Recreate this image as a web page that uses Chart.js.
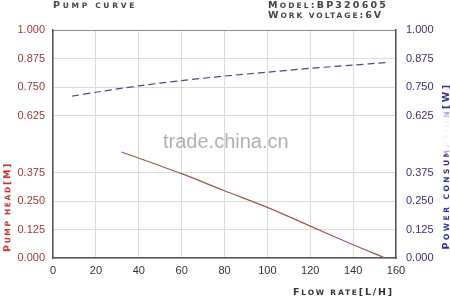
<!DOCTYPE html>
<html>
<head>
<meta charset="utf-8">
<script src="https://cdn.jsdelivr.net/npm/chart.js@4.4.0/dist/chart.umd.min.js"></script>
<style>
  html, body { margin: 0; padding: 0; background: #fff; }
  #wrap { position: relative; width: 450px; height: 296px; overflow: hidden; }
  canvas { position: absolute; left: 0; top: 0; }
  .lbl {
    position: absolute;
    font-family: "DejaVu Sans", sans-serif;
    font-weight: bold;
    font-size: 7.5px;
    white-space: nowrap;
    line-height: 1;
  }
  .lbl b { font-size: 9.5px; }
  .rot { transform: translate(-50%, -50%) rotate(-90deg); }
  .mark {
    position: absolute;
    font-family: "Liberation Sans", Arial, sans-serif;
    font-size: 20px;
    color: rgba(150,150,150,0.75);
    white-space: nowrap;
  }
  .fade {
    position: absolute;
    left: 434px; top: 112px; width: 20px; height: 42px;
    background: radial-gradient(ellipse at center, rgba(255,255,255,0.95) 45%, rgba(255,255,255,0) 100%);
  }
</style>
</head>
<body>
<div id="wrap">
  <canvas id="chart" width="450" height="296"></canvas>
  <div class="lbl" data-w="84" style="left:53px; top:0px; color:#444;"><b>P</b>UMP CURVE</div>
  <div class="lbl" data-w="120" style="left:268px; top:0px; color:#444;"><b>M</b>ODEL<b>:BP320605</b></div>
  <div class="lbl" data-w="115" style="left:268px; top:10px; color:#444;"><b>W</b>ORK VOLTAGE<b>:6V</b></div>
  <div class="lbl" data-w="101" style="left:293px; top:287px; color:#333;"><b>F</b>LOW RATE<b>[L/H]</b></div>
  <div class="lbl rot" data-w="90" style="left:7px; top:207px; color:#c0322c;"><b>P</b>UMP HEAD<b>[M]</b></div>
  <div class="lbl rot" data-w="167" style="left:446px; top:166px; color:#2e3190;"><b>P</b>OWER CONSUMPTION<b>[W]</b></div>
  <div class="fade"></div>
  <div class="mark" style="left:163px; top:130px;">trade.china.cn</div>
</div>
<script>
// flow rate (L/H) vs pump head (m)
const headFlow = [32, 60, 80, 100, 120, 140, 155];
const headValues = [0.465, 0.37, 0.295, 0.222, 0.14, 0.058, 0];

// flow rate (L/H) vs power consumption (W)
const powerFlow = [9, 20, 40, 60, 80, 100, 120, 140, 155];
const powerValues = [0.71, 0.727, 0.755, 0.778, 0.798, 0.815, 0.832, 0.846, 0.857];

const yTickLabels = ['0.000', '0.125', '0.250', '0.375', '', '0.625', '0.750', '0.875', '1.000'];

const toPoints = (xs, ys) => xs.map((x, i) => ({ x: x, y: ys[i] }));

const gridColor = (ctx) => {
  if (ctx.tick && ctx.tick.value === 1) return '#888';
  if (ctx.tick && ctx.tick.value === 0.5) return 'rgba(0,0,0,0)';
  return '#dcdcdc';
};

// stretch the small-caps labels to the widths seen in the picture
document.querySelectorAll('.lbl').forEach((el) => {
  const target = +el.dataset.w;
  const n = el.textContent.length;
  const w = el.getBoundingClientRect();
  const natural = el.classList.contains('rot') ? w.height : w.width;
  el.style.letterSpacing = ((target - natural) / n) + 'px';
});

new Chart(document.getElementById('chart'), {
  type: 'line',
  data: {
    datasets: [
      {
        label: 'Pump head',
        data: toPoints(headFlow, headValues),
        borderColor: '#a3554c',
        borderWidth: 1.2,
        pointRadius: 0,
        tension: 0.3,
        yAxisID: 'y'
      },
      {
        label: 'Power consumption',
        data: toPoints(powerFlow, powerValues),
        borderColor: '#464a82',
        borderWidth: 1.2,
        borderDash: [7, 4],
        pointRadius: 0,
        tension: 0.3,
        yAxisID: 'y1'
      }
    ]
  },
  options: {
    responsive: false,
    animation: false,
    layout: { padding: { top: 30, left: 0, right: 0, bottom: 0 } },
    plugins: { legend: { display: false }, tooltip: { enabled: false } },
    scales: {
      x: {
        type: 'linear',
        min: 0,
        max: 160,
        ticks: { stepSize: 20, color: '#333', padding: 6, font: { family: 'Liberation Sans', size: 11 } },
        grid: { color: '#dcdcdc', drawTicks: false },
        border: { color: '#555', width: 1.5 },
        afterFit: (s) => { s.height = 38; }
      },
      y: {
        position: 'left',
        min: 0,
        max: 1,
        ticks: {
          stepSize: 0.125,
          color: '#9a3a36',
          padding: 8,
          font: { family: 'Liberation Sans', size: 11 },
          callback: (v, i) => yTickLabels[i]
        },
        grid: { color: gridColor, drawTicks: false },
        border: { color: '#555', width: 1.5 },
        afterFit: (s) => { s.width = 53; }
      },
      y1: {
        position: 'right',
        min: 0,
        max: 1,
        ticks: {
          stepSize: 0.125,
          color: '#353577',
          padding: 10,
          font: { family: 'Liberation Sans', size: 11 },
          callback: (v, i) => yTickLabels[i]
        },
        grid: { drawOnChartArea: false, drawTicks: false },
        border: { color: '#555', width: 1.5 },
        afterFit: (s) => { s.width = 54; }
      }
    }
  }
});
</script>
</body>
</html>
